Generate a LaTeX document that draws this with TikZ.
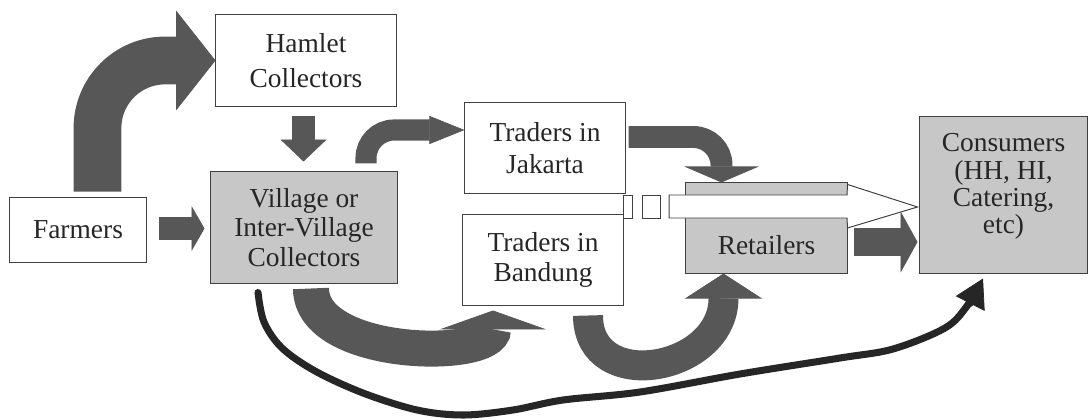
\documentclass[tikz,border=0pt]{standalone}
\usepackage{fontspec}
\setmainfont{Liberation Serif}
\usetikzlibrary{arrows.meta,calc}

\begin{document}
\begin{tikzpicture}[x=0.025cm, y=-0.025cm]
    \tikzset{%
      boxtext/.style   = {text=black!85, align=center,
                          font=\fontsize{19.5}{21}\selectfont},
      box/.style       = {boxtext, draw=black!75, line width=0.7pt,
                          fill=white, inner sep=0pt},
      greybox/.style   = {box, fill=black!22},
      flow/.style n args = {3}{draw=black!66, line width=#1,
                          -{Triangle[length=#2, width=#3, line width=0.5pt]}},
      trail/.style     = {draw=black!85, line width=5pt, line cap=round,
                          -{Triangle[length=20pt, width=23pt, line width=0.5pt]}},
      hollow/.style    = {draw=black!75, line width=0.7pt, fill=white}
    }
    \useasboundingbox (0,0) rectangle (1091,420);

    % actors
    \node[box, minimum width=3.4cm, minimum height=1.625cm]     (farm) at (78,229.5)   {Farmers};
    \node[box, minimum width=4.5cm, minimum height=2.275cm,
          font=\fontsize{19.5}{25}\selectfont]                  (ham)  at (306,60.5)   {Hamlet\\Collectors};
    \node[greybox, minimum width=4.65cm, minimum height=2.775cm] (vil)  at (304,227.5)  {Village or\\Inter-Village\\Collectors};
    \node[box, minimum width=4cm, minimum height=2.25cm,
          font=\fontsize{19.5}{23}\selectfont]                  (jak)  at (545,148)    {Traders in\\Jakarta};
    \node[box, minimum width=4cm, minimum height=2.25cm]        (bnd)  at (543,260)    {Traders in\\Bandung};
    \node[greybox, minimum width=4.025cm, minimum height=2.25cm,
          text height=38pt, text depth=0pt]                     (ret)  at (766.5,228)  {Retailers};
    \node[greybox, minimum width=4.175cm, minimum height=3.9cm,
          label={[boxtext, font=\fontsize{19.5}{19.5}\selectfont, yshift=6pt]center:{Consumers\\(HH, HI,\\Catering,\\etc)}}]
                                                                (cons) at (1003.5,195) {};

    % block arrows
    \draw[flow={34pt}{28pt}{71pt}, rounded corners=48pt]
      ($(farm.north)+(19.5,-5)$) |- (ham.west);
    \draw[flow={16.4pt}{15.6pt}{32.7pt}]
      ($(ham.south)+(-2.5,9)$) -- ($(vil.north)+(-0.5,-10)$);
    \draw[flow={16.4pt}{9.2pt}{32pt}]
      ($(farm.east)+(12,-1)$) -- ($(vil.west)+(-6,1)$);
    \draw[flow={15pt}{25pt}{20pt}, rounded corners=20pt]
      ($(vil.north)+(62,-8)$) |- ($(jak.west)+(0,-18)$);
    \draw[flow={15.6pt}{11.4pt}{53pt}, rounded corners=20pt]
      ($(jak.east)+(3,-11)$) -| ($(ret.north)+(-45,0)$);
    \draw[flow={20.6pt}{12pt}{43.4pt}]
      ($(ret.east)+(6,14)$) -- ($(cons.west)+(-2,47)$);
    \draw[flow={25.6pt}{13.5pt}{76pt}]
      ($(vil.south)+(7,5)$) .. controls +(0,70) and +(0,50) .. ($(bnd.south)+(-50,5)$);
    \draw[flow={21.3pt}{17.8pt}{54.8pt}]
      ($(bnd.south)+(45,10)$) .. controls +(0,80) and +(0,98) .. ($(ret.south)+(-43,0)$);

    % direct route, village to consumers
    \coordinate (tr0) at ($(vil.south)+(-46,9)$);
    \coordinate (tr1) at ($(cons.south)+(-20.5,5)$);
    \draw[trail] plot[smooth, tension=0.55] coordinates {
      (tr0) (264,322) (282,348) (315,371) (363,393) (417,410) (463,415)
      (513,410) (563,400) (640,392) (740,374) (840,358) (893,349)
      (945,328) (967,306) (tr1)};

    % striped arrow over the retailers
    \draw[hollow] (623,195) rectangle (632,218)
                  (642,195) rectangle (660,218);
    \draw[hollow] (669,195) -- (847,195) -- ($(ret.north east)+(0,2)$) -- % upper barb
                  ($(cons.west)+(-2,12)$)                             -- % tip
                  (ret.east) -- (847,218) -- (669,218) -- cycle;
\end{tikzpicture}
\end{document}
